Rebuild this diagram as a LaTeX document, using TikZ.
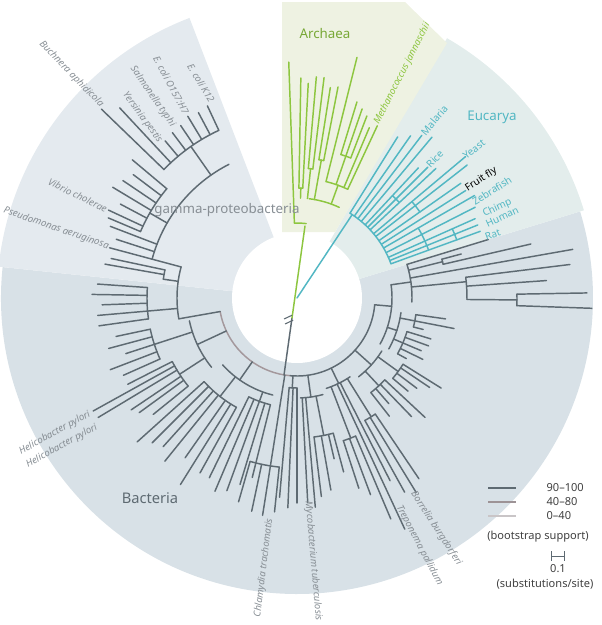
\documentclass[tikz,border=0pt]{standalone}
\usepackage{fontspec}
\setmainfont{Noto Sans}
\usepackage{tikz}

\definecolor{bactbg}{HTML}{D8E1E7}
\definecolor{gammabg}{HTML}{E4EAEF}
\definecolor{eucbg}{HTML}{E3EDEC}
\definecolor{archbg}{HTML}{EEF2E2}
\definecolor{branch}{HTML}{5E6A72}
\definecolor{midbranch}{HTML}{A4989C}
\definecolor{lowbranch}{HTML}{C9C5C7}
\definecolor{archgreen}{HTML}{8DC63F}
\definecolor{euteal}{HTML}{52B7C3}
\definecolor{labelgray}{HTML}{878E94}

\tikzset{
  tree/.style={line width=1.1pt, line cap=round},
  species/.style={font=\itshape\fontsize{7.2}{8}\selectfont, text=labelgray, inner sep=1pt},
  eucname/.style={font=\fontsize{7.5}{8}\selectfont, text=euteal, inner sep=1pt},
  domainname/.style={font=\fontsize{10}{12}\selectfont},
  legendtext/.style={font=\fontsize{8.3}{10}\selectfont, text=black!75, inner sep=1pt}
}

\begin{document}
\begin{tikzpicture}[x=0.75pt,y=0.75pt]
	\useasboundingbox (0,0) rectangle (602,-625);
	% shaded domains
	\begin{scope}[shift={(297,-298)}]
		\fill[bactbg] (0,0) -- (174:296) arc[start angle=174,end angle=377,radius=296] -- cycle;
		\fill[gammabg] (0,0) -- (111:300) arc[start angle=111,end angle=174,radius=300] -- cycle;
		\fill[eucbg] (0,0) -- (17:300) arc[start angle=17,end angle=60,radius=300] -- cycle;
	\end{scope}
	\fill[archbg] (282,-232) -- (282,-2) -- (405,-2) -- (447,-43) -- (335,-232) -- cycle;
	\fill[white] (297,-298) circle[radius=65];

	% bacteria
	\begin{scope}[shift={(297,-298)}, tree, branch]
		\draw[midbranch] (200:78) arc[start angle=200,end angle=265,radius=78];
		\draw (265:78) arc[start angle=265,end angle=355,radius=78];
		\draw[midbranch] (190:78) arc[start angle=190,end angle=200,radius=78];
		\draw (-29:95) arc[start angle=-29,end angle=8,radius=95];
		\foreach \a/\b/\r in {-2/17/115, 13/15/150, -0.5/7/170, -2/1/220,
			-29/-8/105, -14/-8/120, -29/-17/115,
			-52/-32/100, -40/-32/125, -52/-43/120,
			-72/-56/95, -61/-56/140, -72/-67/150,
			-88/-75/100, -83/-75/140, -95/-90/90, -106/-96/170,
			222/256/100, 244/256/110, 222/241/125,
			192/219/110, 207/219/140, 192/204/150,
			165/190/120, 176/188/150, 168/172/135,
			117/165/150, 140/157/170, 115/136/185}
			\draw (\a:\r) arc[start angle=\a,end angle=\b,radius=\r];
		\foreach \a/\p/\q in {-5/78/95, 8/95/115, 17/115/200, 10/115/280, 14/115/150,
			15/150/170, 13/150/240, 5.5/115/170, -0.5/170/220, 7/170/275, 4/170/250,
			1/220/290, -2/220/295,
			-18/95/105, -11/105/120, -8/120/150, -11/120/160, -14/120/130, -23/105/115,
			-17/115/140, -20/115/140, -23/115/135, -26/115/140, -29/115/125,
			-42/78/100, -36/100/125, -32/125/170, -34/125/160, -37/125/150, -40/125/145,
			-47/100/120, -43/120/175, -46/120/165, -49/120/140, -52/120/150,
			-64/78/95, -58/95/140, -56/140/218, -58.5/140/228, -61/140/222,
			-63/95/205, -65/95/255, -69/95/150, -67/150/240, -69.5/150/210, -72/150/200,
			-82/78/100, -79/100/140, -75/140/180, -77/140/165, -80/140/195, -83/140/200,
			-85/100/210, -87/100/205,
			-93/78/90, -90/90/205, -92.5/90/210, -95/90/200,
			-99/78/170, -96/170/215, -99/170/220, -102/170/218, -106/170/212,
			235/78/100, 250/100/110, 244/110/200, 247/110/210, 250/110/205, 253/110/195,
			256/110/185, 232/100/125, 222/125/215, 225/125/205, 228/125/200, 231/125/210,
			235/125/195, 238/125/220, 241/125/200,
			205/78/110, 213/110/140, 207/140/190, 209/140/233, 211/140/232, 214/140/200,
			216/140/195, 219/140/185, 198/110/150, 192/150/185, 195/150/195, 198/150/180,
			201/150/200, 204/150/190,
			190/78/120, 185/120/150, 176/150/200, 179/150/205, 182/150/195, 185/150/200,
			188/150/200, 172/120/135, 168/135/190, 170/135/195,
			165/120/150, 165/150/194, 162/150/190, 159/150/200, 150/150/170,
			157/170/205, 155/170/208, 152/170/200, 149/170/215, 146/170/210, 143/170/205,
			140/170/215, 125/150/185, 136/185/272, 133/185/260, 130/185/205, 127/185/207,
			124/185/208, 121/185/212, 118/185/210, 115/185/212}
			\draw (\a:\p) -- (\a:\q);
	\end{scope}

	% stems from the root
	\coordinate (root) at (292,-318);
	\coordinate (bactbase) at (284,-375);
	\coordinate (archbase) at (305,-226);
	\draw[tree, branch] (root) -- (bactbase);
	\draw[tree, archgreen] (root) -- (archbase);
	\draw[tree, euteal] (297,-298) -- ++(56.5:100);
	\draw[line width=0.8pt, branch] (284,-319) -- ++(25:9) (285,-324) -- ++(25:9);

	% archaea and eucarya
	\begin{scope}[shift={(297,-298)}, tree]
		\begin{scope}[archgreen]
			\foreach \a/\b/\r in {83/92/75, 65/83/100, 87/89/110, 83/85/130, 79/81/140, 65/76/120, 69/73/150}
				\draw (\a:\r) arc[start angle=\a,end angle=\b,radius=\r];
			\foreach \a/\p/\q in {92/75/236, 88/100/110, 89/110/220, 87/110/215, 84/100/130,
				85/130/222, 83/130/222, 80/100/140, 81/140/213, 79/140/215, 70/100/120,
				76/120/248, 73/150/205, 71/120/200, 69/150/195, 67/120/185, 65/120/190}
				\draw (\a:\p) -- (\a:\q);
		\end{scope}
		\begin{scope}[euteal]
			\foreach \a/\b/\r in {20/58/100, 43/47/140, 35/40/150, 20/30/140, 20/24/170}
				\draw (\a:\r) arc[start angle=\a,end angle=\b,radius=\r];
			\foreach \a/\q in {58/190, 55/198, 52.5/205, 50/210, 47/178, 45/185, 43/190,
				40/220, 38/216, 35/200, 32.5/200, 30/205, 27/200, 24/195, 22/195, 20/195}
				\draw (\a:100) -- (\a:\q);
		\end{scope}
	\end{scope}

	% domain names
	\node[domainname, text=labelgray] (gammaname) at (227,-210) {gamma-proteobacteria};
	\node[domainname, text=archgreen!85!black] (archname) at (325,-33) {Archaea};
	\node[domainname, text=euteal] (eucname) at (492,-117) {Eucarya};
	\node[domainname, text=branch, font=\fontsize{11}{13}\selectfont] (bactname) at (150,-498) {Bacteria};

	% species
	\node[species, rotate=-46, anchor=east] (buchnera) at (103,-107) {Buchnera aphidicola};
	\node[species, rotate=-62, anchor=east] (ecolio) at (187,-115) {E. coli O157:H7};
	\node[species, rotate=-55, anchor=east] (salmonella) at (174,-127) {Salmonella typhi};
	\node[species, rotate=-54, anchor=east] (yersinia) at (161,-143) {Yersinia pestis};
	\node[species, rotate=-59, anchor=east] (ecolik) at (213,-103) {E. coli K12};
	\node[species, rotate=-26, anchor=east] (vibrio) at (108,-210) {Vibrio cholerae};
	\node[species, rotate=-19, anchor=east] (pseudomonas) at (110,-247) {Pseudomonas aeruginosa};
	\node[species, rotate=29, anchor=east] (helicoa) at (91,-413) {Helicobacter pylori};
	\node[species, rotate=29, anchor=east] (helicob) at (98,-426) {Helicobacter pylori};
	\node[species, rotate=83, anchor=east] (chlamydia) at (270,-517) {Chlamydia trachomatis};
	\node[species, rotate=-85, anchor=west] (myco) at (308,-500) {Mycobacterium tuberculosis};
	\node[species, rotate=-62, anchor=west] (treponema) at (398,-505) {Treponema pallidum};
	\node[species, rotate=-57, anchor=west] (borrelia) at (412,-491) {Borrelia burgdorferi};
	\node[species, text=archgreen, rotate=63, anchor=west] (methano) at (376,-125) {Methanococcus jannaschii};
	\node[eucname, rotate=50, anchor=west] (malaria) at (422,-135) {Malaria};
	\node[eucname, rotate=46, anchor=west] (rice) at (427,-167) {Rice};
	\node[eucname, rotate=38, anchor=west] (yeast) at (463,-158) {Yeast};
	\node[eucname, text=black, rotate=33, anchor=west] (fruitfly) at (465,-190) {Fruit fly};
	\node[eucname, rotate=32, anchor=west] (zebrafish) at (472,-203) {Zebrafish};
	\node[eucname, rotate=25, anchor=west] (chimp) at (482,-215) {Chimp};
	\node[eucname, rotate=25, anchor=west] (human) at (485,-225) {Human};
	\node[eucname, rotate=20, anchor=west] (rat) at (484,-238) {Rat};

	% legend
	\draw[line width=1.3pt, branch] (488,-488) -- (516,-488);
	\draw[line width=1.3pt, midbranch!80!gray] (488,-502) -- (516,-502);
	\draw[line width=1.3pt, lowbranch] (488,-516) -- (516,-516);
	\node[legendtext, anchor=west] (hi) at (545,-488) {90–100};
	\node[legendtext, anchor=west] (mid) at (545,-502) {40–80};
	\node[legendtext, anchor=west] (lo) at (545,-516) {0–40};
	\node[legendtext] (boot) at (538,-537) {(bootstrap support)};
	\draw[line width=0.7pt, branch, |-|] (551,-556) -- (565,-556);
	\node[legendtext] (scale) at (558,-569) {0.1};
	\node[legendtext] (subst) at (545,-584) {(substitutions/site)};
\end{tikzpicture}
\end{document}
